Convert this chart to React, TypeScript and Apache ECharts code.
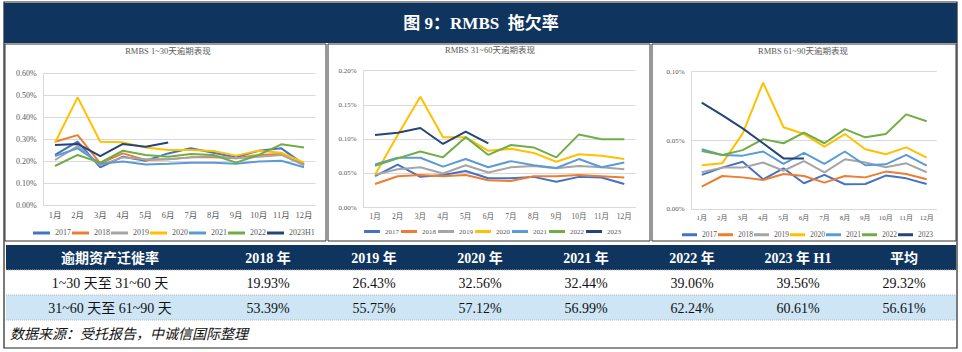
import React, { useEffect, useRef } from 'react';
import * as echarts from 'echarts';

// ---------- data ----------
const months = ['1月', '2月', '3月', '4月', '5月', '6月', '7月', '8月', '9月', '10月', '11月', '12月'];
const namesA = ['2017', '2018', '2019', '2020', '2021', '2022', '2023H1'];
const namesB = ['2017', '2018', '2019', '2020', '2021', '2022', '2023'];

// RMBS 1~30天逾期表现 (%)
const a2017 = [0.23, 0.29, 0.174, 0.222, 0.204, 0.237, 0.26, 0.24, 0.219, 0.249, 0.26, 0.187];
const a2018 = [0.29, 0.32, 0.192, 0.237, 0.207, 0.21, 0.219, 0.219, 0.215, 0.23, 0.234, 0.184];
const a2019 = [0.207, 0.27, 0.184, 0.219, 0.21, 0.21, 0.219, 0.225, 0.215, 0.222, 0.23, 0.184];
const a2020 = [0.285, 0.491, 0.29, 0.287, 0.264, 0.252, 0.252, 0.248, 0.227, 0.249, 0.24, 0.195];
const a2021 = [0.225, 0.26, 0.19, 0.2, 0.187, 0.19, 0.195, 0.195, 0.19, 0.2, 0.204, 0.174];
const a2022 = [0.18, 0.23, 0.195, 0.249, 0.23, 0.222, 0.234, 0.23, 0.195, 0.23, 0.278, 0.264];
const a2023 = [0.275, 0.28, 0.225, 0.28, 0.267, 0.286];

// RMBS 31~60天逾期表现 (%)
const b2017 = [0.046, 0.063, 0.045, 0.0477, 0.0535, 0.043, 0.043, 0.045, 0.038, 0.045, 0.044, 0.0345];
const b2018 = [0.0345, 0.046, 0.0477, 0.046, 0.0477, 0.04, 0.039, 0.046, 0.046, 0.0477, 0.046, 0.044];
const b2019 = [0.048, 0.056, 0.059, 0.05, 0.062, 0.0515, 0.059, 0.061, 0.0575, 0.061, 0.059, 0.056];
const b2020 = [0.048, 0.106, 0.162, 0.103, 0.103, 0.083, 0.086, 0.08, 0.067, 0.078, 0.076, 0.071];
const b2021 = [0.063, 0.073, 0.073, 0.06, 0.071, 0.059, 0.068, 0.062, 0.058, 0.071, 0.059, 0.066];
const b2022 = [0.061, 0.072, 0.082, 0.0735, 0.103, 0.077, 0.0915, 0.088, 0.0735, 0.107, 0.1, 0.1];
const b2023 = [0.106, 0.1095, 0.1163, 0.093, 0.111, 0.094];

// RMBS 61~90天逾期表现 (%)
const c2017 = [0.025, 0.0303, 0.0346, 0.0218, 0.0298, 0.0189, 0.025, 0.0182, 0.0184, 0.0245, 0.0225, 0.0184];
const c2018 = [0.0165, 0.0242, 0.0232, 0.0213, 0.0257, 0.0242, 0.0194, 0.0242, 0.0232, 0.0274, 0.0257, 0.0218];
const c2019 = [0.0269, 0.0303, 0.0303, 0.034, 0.028, 0.035, 0.0269, 0.0363, 0.034, 0.0305, 0.0334, 0.0269];
const c2020 = [0.032, 0.0334, 0.055, 0.092, 0.0596, 0.0547, 0.0455, 0.0547, 0.0436, 0.04, 0.045, 0.0375];
const c2021 = [0.0436, 0.0395, 0.039, 0.042, 0.033, 0.041, 0.033, 0.042, 0.032, 0.0327, 0.0395, 0.0317];
const c2022 = [0.0424, 0.0395, 0.043, 0.051, 0.048, 0.0557, 0.048, 0.0583, 0.0523, 0.0547, 0.069, 0.064];
const c2023 = [0.0775, 0.0685, 0.0588, 0.048, 0.037, 0.037];

const titles = ['RMBS 1~30天逾期表现', 'RMBS 31~60天逾期表现', 'RMBS 61~90天逾期表现'];
const mainTitle = '图 9：RMBS  拖欠率';
const footnote = '数据来源：受托报告，中诚信国际整理';

// table
const tableHeader = ['逾期资产迁徙率', '2018 年', '2019 年', '2020 年', '2021 年', '2022 年', '2023 年 H1', '平均'];
const row1Label = '1~30 天至 31~60 天';
const row1 = ['19.93%', '26.43%', '32.56%', '32.44%', '39.06%', '39.56%', '29.32%'];
const row2Label = '31~60 天至 61~90 天';
const row2 = ['53.39%', '55.75%', '57.12%', '56.99%', '62.24%', '60.61%', '56.61%'];

// ---------- style ----------
const COLORS = ['#4472C4', '#ED7D31', '#A5A5A5', '#FFC000', '#5B9BD5', '#70AD47', '#264478'];
const SERIF = "'Liberation Serif', 'Times New Roman', 'Noto Sans CJK SC', serif";
const NAVY = '#0f355e';
const LABEL = '#595959';

const chartSets = [
  { names: namesA, data: [a2017, a2018, a2019, a2020, a2021, a2022, a2023], max: 0.6, interval: 0.1 },
  { names: namesB, data: [b2017, b2018, b2019, b2020, b2021, b2022, b2023], max: 0.2, interval: 0.05 },
  { names: namesB, data: [c2017, c2018, c2019, c2020, c2021, c2022, c2023], max: 0.1, interval: 0.05 },
];

const grids = [
  { left: 43.7, top: 73.3, width: 271.6, height: 132.4 },
  { left: 363.7, top: 70.7, width: 271.9, height: 137 },
  { left: 691.5, top: 71.7, width: 245.4, height: 137.6 },
];
const layout = [
  { titleX: 168, titleY: 52, legendLeft: 33, legendTop: 229, lfont: 8, iw: 17, gap: 1, yfont: 8, xfont: 8.5, tfont: 8.5 },
  { titleX: 490, titleY: 51, legendLeft: 364, legendTop: 228, lfont: 7, iw: 16, gap: 2, yfont: 7, xfont: 7.5, tfont: 8.5 },
  { titleX: 803, titleY: 52, legendLeft: 682, legendTop: 231, lfont: 7.5, iw: 15, gap: 1, yfont: 7, xfont: 7, tfont: 8.5 },
];

function buildOption() {
  const title: any[] = [];
  const legend: any[] = [];
  const xAxis: any[] = [];
  const yAxis: any[] = [];
  const series: any[] = [];

  chartSets.forEach((set, i) => {
    const L = layout[i];
    title.push({
      text: titles[i],
      left: L.titleX,
      top: L.titleY - 5,
      textAlign: 'center',
      padding: 0,
      textStyle: { fontSize: L.tfont, fontWeight: 'normal', color: LABEL, fontFamily: SERIF },
    });
    legend.push({
      data: set.names,
      left: L.legendLeft,
      top: L.legendTop,
      padding: 0,
      icon: 'rect',
      itemWidth: L.iw,
      itemHeight: 3,
      itemGap: L.gap,
      textStyle: { fontSize: L.lfont, color: LABEL, fontFamily: SERIF },
      selectedMode: false,
    });
    xAxis.push({
      type: 'category',
      gridIndex: i,
      data: months,
      boundaryGap: true,
      axisLine: { show: true, lineStyle: { color: '#d9d9d9' } },
      axisTick: { show: false },
      axisLabel: { fontSize: L.xfont, color: LABEL, fontFamily: SERIF, margin: 5 },
    });
    yAxis.push({
      type: 'value',
      gridIndex: i,
      min: 0,
      max: set.max,
      interval: set.interval,
      axisLine: { show: true, lineStyle: { color: '#d9d9d9' } },
      axisTick: { show: false },
      splitLine: { lineStyle: { color: '#d9d9d9' } },
      axisLabel: {
        fontSize: L.yfont,
        color: LABEL,
        fontFamily: SERIF,
        margin: 7,
        formatter: (v: number) => v.toFixed(2) + '%',
      },
    });
    set.names.forEach((name, k) => {
      series.push({
        type: 'line',
        name,
        xAxisIndex: i,
        yAxisIndex: i,
        data: set.data[k],
        symbol: 'none',
        showSymbol: false,
        lineStyle: { width: 2, color: COLORS[k] },
        itemStyle: { color: COLORS[k] },
        z: 2 + k,
      });
    });
  });

  const graphic: any[] = [];
  // outer frame + title bar
  graphic.push({ type: 'rect', shape: { x: 4, y: 2, width: 953, height: 346 }, style: { fill: 'none', stroke: '#222', lineWidth: 1.2 }, silent: true });
  graphic.push({ type: 'rect', shape: { x: 4, y: 3, width: 953, height: 40 }, style: { fill: NAVY }, silent: true });
  graphic.push({
    type: 'text', x: 481, y: 23,
    style: { text: mainTitle, fill: '#fff', fontSize: 17, fontWeight: 'bold', fontFamily: SERIF, align: 'center', verticalAlign: 'middle' },
    silent: true,
  });
  // panel borders
  const panels = [[5, 44, 321, 197], [328, 44, 322, 197], [652, 44, 304, 197]];
  panels.forEach(([x, y, w, h]) => {
    graphic.push({ type: 'rect', shape: { x, y, width: w, height: h }, style: { fill: 'none', stroke: '#333', lineWidth: 1 }, silent: true });
  });

  // table
  const tx = 6, tw = 950;
  graphic.push({ type: 'rect', shape: { x: tx, y: 245, width: tw, height: 25 }, style: { fill: NAVY }, silent: true });
  graphic.push({ type: 'rect', shape: { x: tx, y: 295, width: tw, height: 25 }, style: { fill: '#cde5f5' }, silent: true });
  [270, 295, 320].forEach((yy) => {
    graphic.push({ type: 'line', shape: { x1: tx, y1: yy, x2: tx + tw, y2: yy }, style: { stroke: '#b8b8b8', lineWidth: 1, lineDash: [1, 1] }, silent: true });
  });
  const colX = [110, 268, 374, 480, 586, 692, 798, 904];
  tableHeader.forEach((t, c) => {
    graphic.push({
      type: 'text', x: colX[c], y: 258,
      style: { text: t, fill: '#fff', fontSize: 14, fontWeight: 'bold', fontFamily: SERIF, align: 'center', verticalAlign: 'middle' },
      silent: true,
    });
  });
  [[row1Label, row1, 283], [row2Label, row2, 308]].forEach(([label, vals, yy]: any) => {
    graphic.push({
      type: 'text', x: colX[0], y: yy,
      style: { text: label, fill: '#111', fontSize: 14, fontFamily: SERIF, align: 'center', verticalAlign: 'middle' },
      silent: true,
    });
    (vals as string[]).forEach((v, c) => {
      graphic.push({
        type: 'text', x: colX[c + 1], y: yy,
        style: { text: v, fill: '#111', fontSize: 14, fontFamily: SERIF, align: 'center', verticalAlign: 'middle' },
        silent: true,
      });
    });
  });
  graphic.push({
    type: 'text', x: 10, y: 333,
    style: { text: footnote, fill: '#111', fontSize: 14, fontStyle: 'italic', fontFamily: "'Noto Sans CJK SC', sans-serif", align: 'left', verticalAlign: 'middle' },
    silent: true,
  });

  return {
    animation: false,
    backgroundColor: '#fff',
    title,
    legend,
    grid: grids.map((g) => ({ ...g, containLabel: false })),
    xAxis,
    yAxis,
    series,
    graphic,
  };
}

export default function App() {
  const ref = useRef<HTMLDivElement>(null);
  useEffect(() => {
    if (!ref.current) return;
    const chart = echarts.init(ref.current, null, { renderer: 'svg' });
    chart.setOption(buildOption());
    return () => chart.dispose();
  }, []);
  return (
    <div
      ref={ref}
      style={{ position: 'fixed', left: 0, top: 0, width: 962, height: 352, background: '#fff' }}
    />
  );
}
